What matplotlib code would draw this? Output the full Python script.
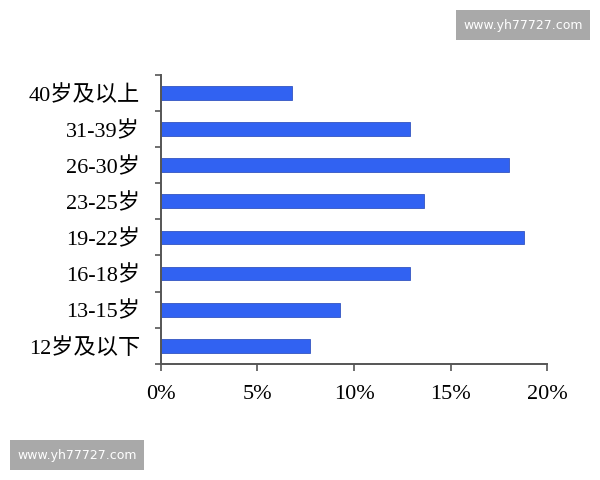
import matplotlib
matplotlib.use('Agg')
import matplotlib.pyplot as plt
from matplotlib.patches import Rectangle

# age groups, bottom to top, and share of users (%)
age_groups = ['12岁及以下', '13-15岁', '16-18岁', '19-22岁',
              '23-25岁', '26-30岁', '31-39岁', '40岁及以上']
shares = [7.7, 9.3, 12.9, 18.8, 13.6, 18.0, 12.9, 6.8]
x_ticks = [0, 5, 10, 15, 20]
x_tick_labels = ['0%', '5%', '10%', '15%', '20%']

font_list = ['Liberation Serif', 'Noto Sans CJK SC']
axis_color = '#555555'

fig = plt.figure(figsize=(6, 4.8), dpi=100)
ax = fig.add_axes([0.268, 0.242, 0.644, 0.602])

ypos = list(range(len(age_groups)))
ax.barh(ypos, shares, height=0.38, color='#3162f2', edgecolor='#3355c0', linewidth=0.6)

ax.set_xlim(0, 20)
ax.set_ylim(-0.5, len(age_groups) - 0.5)
ax.set_xticks(x_ticks)
ax.set_xticklabels(x_tick_labels, family=font_list, fontsize=16)

# labels centred on bars, tick marks on category boundaries
ax.set_yticks(ypos)
ax.set_yticklabels(age_groups, family=font_list, fontsize=16)
ax.tick_params(axis='y', which='major', length=0, pad=15)
ax.set_yticks([y - 0.5 for y in range(len(age_groups) + 1)], minor=True)
ax.tick_params(axis='y', which='minor', length=4, width=1.2, color=axis_color)
ax.tick_params(axis='x', length=5, width=1.2, color=axis_color, pad=10)

for side in ['top', 'right']:
    ax.spines[side].set_visible(False)
for side in ['left', 'bottom']:
    ax.spines[side].set_color(axis_color)
    ax.spines[side].set_linewidth(1.4)

# watermark boxes
for (x0, y0) in [(456 / 600, 1 - 40 / 480), (10 / 600, 1 - 470 / 480)]:
    w, h = 134 / 600, 30 / 480
    fig.patches.append(Rectangle((x0, y0), w, h, transform=fig.transFigure,
                                 facecolor='#a9a9a9', edgecolor='none'))
    fig.text(x0 + w / 2, y0 + h / 2, 'www.yh77727.com', color='white',
             fontsize=9, ha='center', va='center', family='DejaVu Sans')

fig.savefig('out.png', dpi=100)
